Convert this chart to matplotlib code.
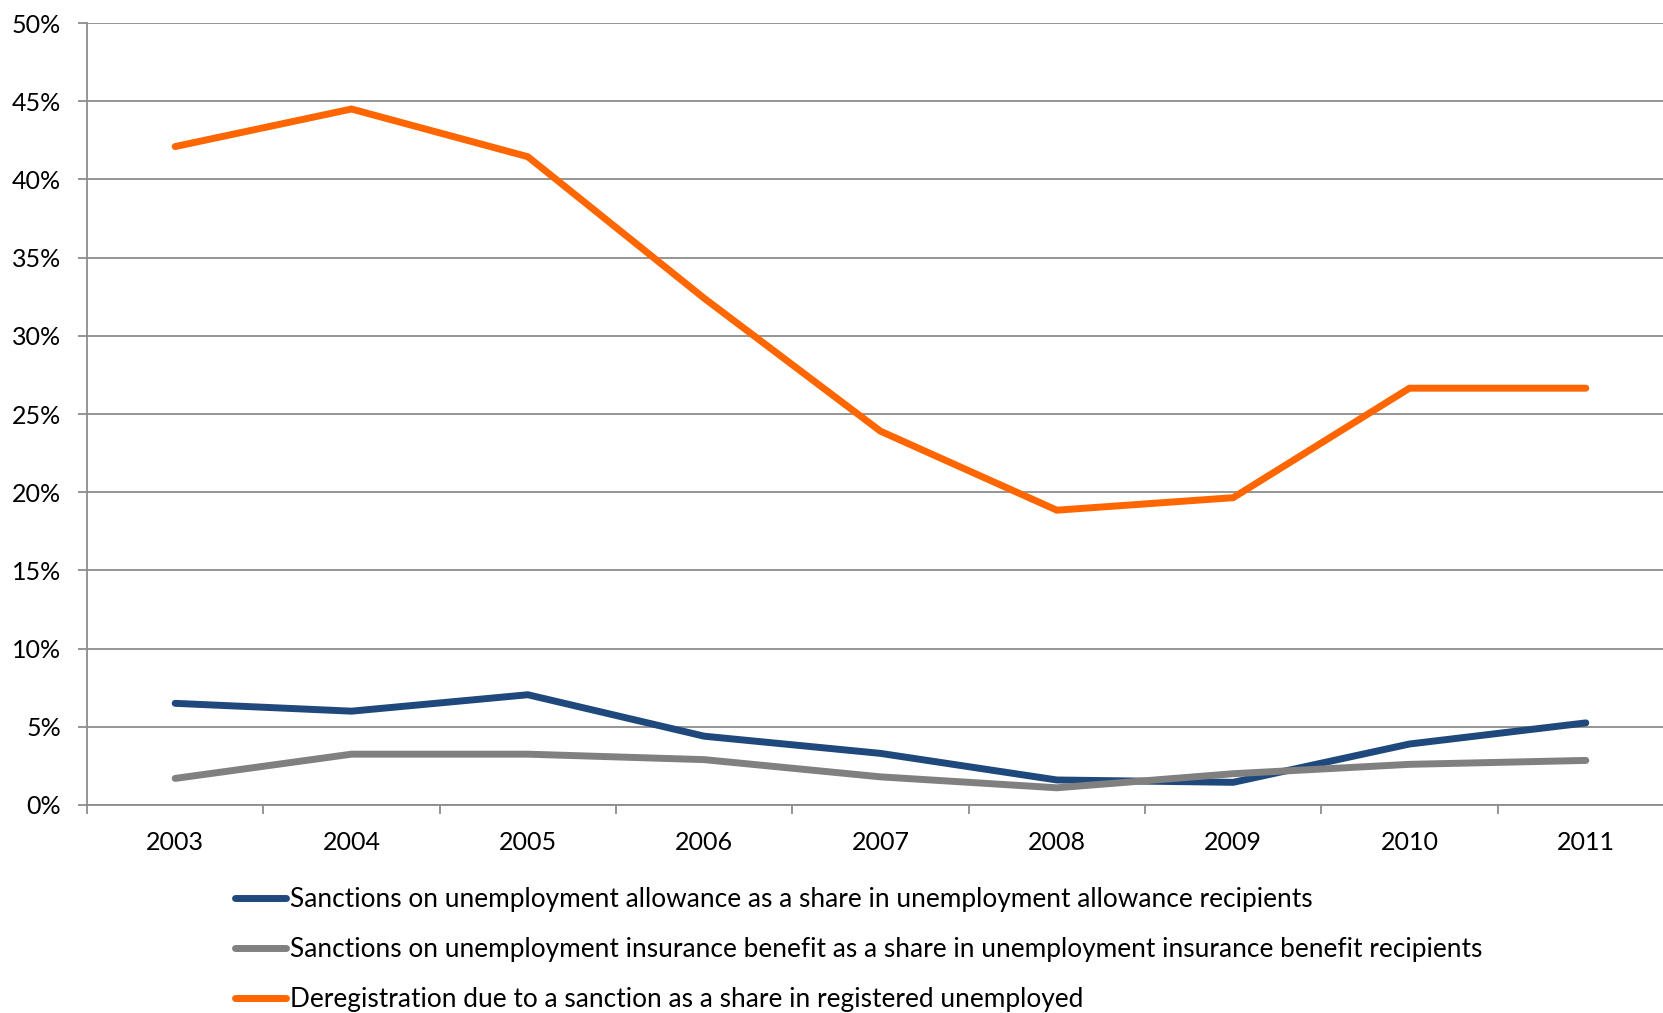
import matplotlib
matplotlib.use("Agg")
import matplotlib.pyplot as plt
import numpy as np
from matplotlib.ticker import FixedLocator, FuncFormatter

years = ["2003", "2004", "2005", "2006", "2007", "2008", "2009", "2010", "2011"]
allowance = [6.5, 6.0, 7.05, 4.4, 3.3, 1.6, 1.45, 3.9, 5.25]
insurance = [1.7, 3.25, 3.25, 2.9, 1.8, 1.1, 2.0, 2.6, 2.85]
deregistration = [42.1, 44.5, 41.45, 32.4, 23.9, 18.85, 19.65, 26.65, 26.65]

labels = [
    "Sanctions on unemployment allowance as a share in unemployment allowance recipients",
    "Sanctions on unemployment insurance benefit as a share in unemployment insurance benefit recipients",
    "Deregistration due to a sanction as a share in registered unemployed",
]
colors = ["#1f497d", "#808080", "#ff6600"]

plt.rcParams["font.family"] = ["Lato", "DejaVu Sans"]

fig = plt.figure(figsize=(16.63, 10.13), dpi=100)
ax = fig.add_axes([87 / 1663, 1 - 805 / 1013, 1587 / 1663, (805 - 23) / 1013])

x = np.arange(len(years))
handles = []
for vals, c, lab in zip([allowance, insurance, deregistration], colors, labels):
    h, = ax.plot(x, vals, color=c, lw=5, solid_capstyle="round",
                 solid_joinstyle="miter", label=lab, zorder=3)
    handles.append(h)

ax.set_xlim(-0.5, len(years) - 0.5)
ax.set_ylim(0, 50)
ax.set_yticks(np.arange(0, 51, 5))
ax.yaxis.set_major_formatter(FuncFormatter(lambda v, p: f"{int(v)}%"))
ax.grid(axis="y", color="#8c8c8c", lw=1.3, zorder=1)
ax.set_axisbelow(True)

ax.set_xticks(x)
ax.set_xticklabels(years)
ax.xaxis.set_minor_locator(FixedLocator(np.arange(-0.5, len(years), 1.0)))
ax.tick_params(axis="x", which="major", length=0, pad=19, labelsize=18)
ax.tick_params(axis="x", which="minor", length=6.5, width=1.3, color="#8c8c8c", direction="out")
ax.tick_params(axis="y", length=6.5, width=1.3, color="#8c8c8c", pad=12, labelsize=18)

for s in ["top", "right"]:
    ax.spines[s].set_visible(False)
for s in ["left", "bottom"]:
    ax.spines[s].set_color("#8c8c8c")
    ax.spines[s].set_linewidth(1.3)

fig.legend(handles=handles, loc="upper left", bbox_to_anchor=(235 / 1663, 1 - 887 / 1013),
           frameon=False, fontsize=18.9, handlelength=1.95, handletextpad=0.15,
           labelspacing=0.96, borderpad=0, borderaxespad=0)

fig.savefig("out.png", dpi=100)
